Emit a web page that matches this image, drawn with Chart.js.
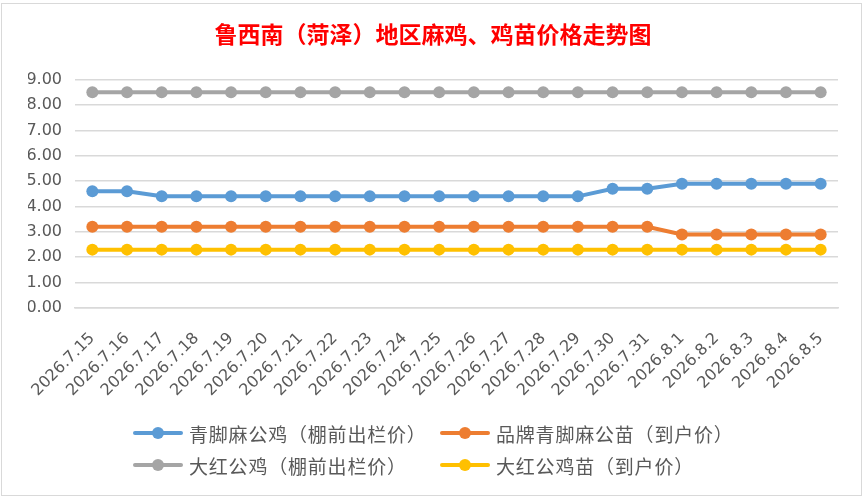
<!DOCTYPE html>
<html>
<head>
<meta charset="utf-8">
<script src="https://cdn.jsdelivr.net/npm/chart.js@4/dist/chart.umd.min.js"></script>
<style>
  body { margin: 0; background: #fff; }
  #wrap { position: relative; width: 866px; height: 500px; }
  #frame { position: absolute; left: 1px; top: 3px; width: 861px; height: 493px; border: 1px solid #d9d9d9; box-sizing: border-box; pointer-events: none; }
  #legend { position: absolute; left: 0; top: 418px; width: 866px; font-family: "Noto Sans CJK SC", sans-serif; font-size: 19px; color: #595959; }
  .item { position: absolute; height: 30px; display: flex; align-items: center; white-space: nowrap; letter-spacing: 0.8px; }
  .item canvas { margin-right: 6px; }
</style>
</head>
<body>
<div id="wrap">
  <canvas id="chart" width="866" height="500"></canvas>
  <div id="frame"></div>
  <div id="legend"></div>
</div>
<script>
// dates
const labels = ['2026.7.15', '2026.7.16', '2026.7.17', '2026.7.18', '2026.7.19', '2026.7.20', '2026.7.21', '2026.7.22', '2026.7.23', '2026.7.24', '2026.7.25', '2026.7.26', '2026.7.27', '2026.7.28', '2026.7.29', '2026.7.30', '2026.7.31', '2026.8.1', '2026.8.2', '2026.8.3', '2026.8.4', '2026.8.5'];

// prices
const qingjiaoGongji = [4.6, 4.6, 4.4, 4.4, 4.4, 4.4, 4.4, 4.4, 4.4, 4.4, 4.4, 4.4, 4.4, 4.4, 4.4, 4.7, 4.7, 4.9, 4.9, 4.9, 4.9, 4.9];
const pinpaiMiao = [3.2, 3.2, 3.2, 3.2, 3.2, 3.2, 3.2, 3.2, 3.2, 3.2, 3.2, 3.2, 3.2, 3.2, 3.2, 3.2, 3.2, 2.9, 2.9, 2.9, 2.9, 2.9];
const dahongGongji = [8.5, 8.5, 8.5, 8.5, 8.5, 8.5, 8.5, 8.5, 8.5, 8.5, 8.5, 8.5, 8.5, 8.5, 8.5, 8.5, 8.5, 8.5, 8.5, 8.5, 8.5, 8.5];
const dahongMiao = [2.3, 2.3, 2.3, 2.3, 2.3, 2.3, 2.3, 2.3, 2.3, 2.3, 2.3, 2.3, 2.3, 2.3, 2.3, 2.3, 2.3, 2.3, 2.3, 2.3, 2.3, 2.3];

const seriesNames = ['青脚麻公鸡（棚前出栏价）', '品牌青脚麻公苗（到户价）', '大红公鸡（棚前出栏价）', '大红公鸡苗（到户价）'];
const colors = ['#5B9BD5', '#ED7D31', '#A5A5A5', '#FFC000'];
const yTicks = [0, 1, 2, 3, 4, 5, 6, 7, 8, 9];

function makeSet(name, data, color) {
    return {
        label: name,
        data: data,
        borderColor: color,
        backgroundColor: color,
        borderWidth: 4,
        pointRadius: 6,
        pointBorderWidth: 0,
        pointBackgroundColor: color,
        tension: 0
    };
}

const ctx = document.getElementById('chart').getContext('2d');
const myChart = new Chart(ctx, {
    type: 'line',
    data: {
        labels: labels,
        datasets: [
            makeSet(seriesNames[0], qingjiaoGongji, colors[0]),
            makeSet(seriesNames[1], pinpaiMiao, colors[1]),
            makeSet(seriesNames[2], dahongGongji, colors[2]),
            makeSet(seriesNames[3], dahongMiao, colors[3])
        ]
    },
    options: {
        responsive: false,
        animation: false,
        layout: { padding: { left: 28, right: 28, top: 0, bottom: 92 } },
        plugins: {
            legend: { display: false },
            tooltip: { enabled: false },
            title: {
                display: true,
                text: '鲁西南（菏泽）地区麻鸡、鸡苗价格走势图',
                color: '#FF0000',
                font: { family: '"Noto Sans CJK SC", sans-serif', size: 23, weight: 'bold' },
                padding: { top: 20, bottom: 32 }
            }
        },
        scales: {
            x: {
                offset: true,
                grid: { display: false },
                border: { color: '#d9d9d9', width: 1.5 },
                ticks: {
                    minRotation: 45,
                    maxRotation: 45,
                    autoSkip: false,
                    padding: 13,
                    color: '#595959',
                    font: { family: '"DejaVu Sans", sans-serif', size: 16 }
                },
                afterFit: function (scale) { scale.height = 100; }
            },
            y: {
                min: 0,
                max: 9,
                afterBuildTicks: function (scale) { scale.ticks = yTicks.map(v => ({ value: v })); },
                grid: { color: '#d9d9d9', lineWidth: 1.5, drawTicks: false },
                border: { display: false },
                ticks: {
                    padding: 13,
                    color: '#595959',
                    font: { family: '"DejaVu Sans", sans-serif', size: 16 },
                    callback: function (v) { return Number(v).toFixed(2); }
                },
                afterFit: function (scale) { scale.width = 47; }
            }
        }
    }
});

// legend, two columns like the original
const legendPos = [[133, 0], [440, 0], [133, 32], [440, 32]];
const legendBox = document.getElementById('legend');
seriesNames.forEach(function (name, i) {
    const item = document.createElement('div');
    item.className = 'item';
    item.style.left = legendPos[i][0] + 'px';
    item.style.top = legendPos[i][1] + 'px';
    const icon = document.createElement('canvas');
    icon.width = 50;
    icon.height = 14;
    const g = icon.getContext('2d');
    g.strokeStyle = colors[i];
    g.lineWidth = 4;
    g.lineCap = 'round';
    g.beginPath();
    g.moveTo(2, 7);
    g.lineTo(48, 7);
    g.stroke();
    g.fillStyle = colors[i];
    g.beginPath();
    g.arc(25, 7, 6, 0, Math.PI * 2);
    g.fill();
    item.appendChild(icon);
    const txt = document.createElement('span');
    txt.textContent = name;
    item.appendChild(txt);
    legendBox.appendChild(item);
});
</script>
</body>
</html>
